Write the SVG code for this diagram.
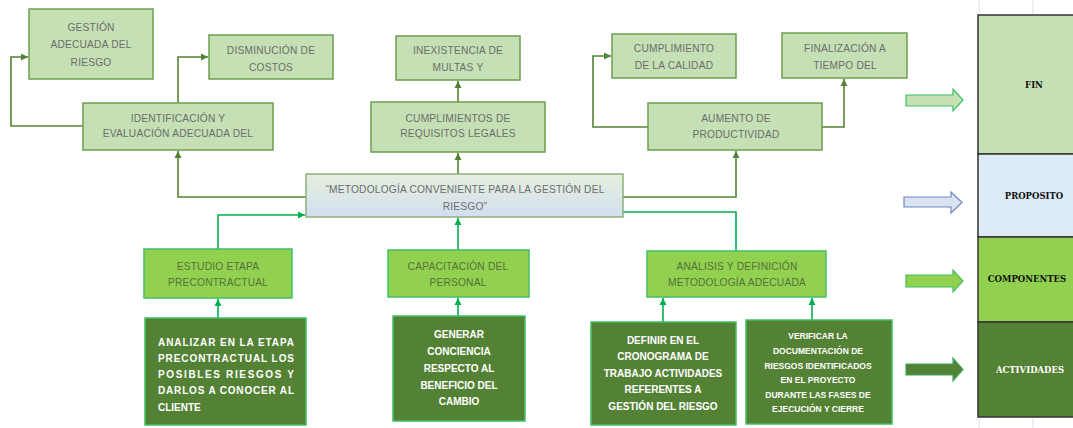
<svg xmlns="http://www.w3.org/2000/svg" width="1073" height="428" viewBox="0 0 1073 428">
<style>
.t1{font-family:"Liberation Sans",Arial,sans-serif;font-size:10.2px;letter-spacing:0.2px;fill:#6d6d6d;text-anchor:middle}
.t2{font-family:"Liberation Sans",Arial,sans-serif;font-size:10.2px;letter-spacing:0.2px;fill:#55703a;text-anchor:middle}
.tw{font-family:"Liberation Sans",Arial,sans-serif;font-size:10px;font-weight:bold;fill:#ffffff;text-anchor:middle}
.tv{font-family:"Liberation Sans",Arial,sans-serif;font-size:8.5px;font-weight:bold;fill:#ffffff;text-anchor:middle}
.tj{font-family:"Liberation Sans",Arial,sans-serif;font-size:10px;font-weight:bold;fill:#ffffff}
.tt{font-family:"DejaVu Serif","Liberation Serif",serif;font-size:8.5px;font-weight:bold;text-anchor:middle}
.b1{fill:#c5e0b4;stroke:#6e9e4e;stroke-width:1.5}
.b2{fill:#92d050;stroke:#3fc064;stroke-width:1.5}
.b3{fill:#548235;stroke:#3fc064;stroke-width:1.5}
.cd{fill:none;stroke:#548235;stroke-width:1.6}
.cb{fill:none;stroke:#00b050;stroke-width:1.6}
.grid{stroke:#e2e2e2;stroke-width:1}
</style>
<defs>
<marker id="ad" viewBox="0 0 10 10" refX="10" refY="5" markerWidth="4.5" markerHeight="4.5" orient="auto" markerUnits="strokeWidth"><path d="M0,0 L10,5 L0,10 z" fill="#548235"/></marker>
<marker id="ab" viewBox="0 0 10 10" refX="10" refY="5" markerWidth="4.5" markerHeight="4.5" orient="auto" markerUnits="strokeWidth"><path d="M0,0 L10,5 L0,10 z" fill="#00b050"/></marker>
<linearGradient id="gc" x1="0" y1="0" x2="0" y2="1"><stop offset="0" stop-color="#e4efdc"/><stop offset="1" stop-color="#d3def1"/></linearGradient>
</defs>

<g id="gridlines">
<line class="grid" x1="979" y1="0" x2="979" y2="15"/>
<line class="grid" x1="1033" y1="0" x2="1033" y2="15"/>
<line class="grid" x1="979" y1="417" x2="979" y2="428"/>
<line class="grid" x1="1033" y1="417" x2="1033" y2="428"/>
</g>

<g id="connectors">
<polyline class="cd" points="83,126 11,126 11,57 28,57" marker-end="url(#ad)"/>
<polyline class="cd" points="178,103 178,57 208,57" marker-end="url(#ad)"/>
<polyline class="cd" points="306,197 178,197 178,151" marker-end="url(#ad)"/>
<polyline class="cd" points="458,174 458,153" marker-end="url(#ad)"/>
<polyline class="cd" points="458,102 458,81" marker-end="url(#ad)"/>
<polyline class="cd" points="612,197 736,197 736,151" marker-end="url(#ad)"/>
<polyline class="cd" points="648,127 593,127 593,56 611,56" marker-end="url(#ad)"/>
<polyline class="cd" points="822,127 844,127 844,79" marker-end="url(#ad)"/>
<polyline class="cb" points="218,249 218,215 305,215" marker-end="url(#ab)"/>
<polyline class="cb" points="218,318 218,299" marker-end="url(#ab)"/>
<polyline class="cb" points="458,250 458,218" marker-end="url(#ab)"/>
<polyline class="cb" points="458,316 458,298" marker-end="url(#ab)"/>
<polyline class="cb" points="736,251 736,212 612,212" marker-end="url(#ab)"/>
<polyline class="cb" points="663,322 663,298" marker-end="url(#ab)"/>
<polyline class="cb" points="812,320 812,298" marker-end="url(#ab)"/>
</g>

<g id="gestion"><rect class="b1" x="29" y="9" width="124" height="70"/>
<text class="t1" x="91" y="31">GESTIÓN</text><text class="t1" x="91" y="48">ADECUADA DEL</text><text class="t1" x="91" y="66">RIESGO</text></g>
<g id="disminucion"><rect class="b1" x="209" y="35" width="124" height="44"/>
<text class="t1" x="271" y="54">DISMINUCIÓN DE</text><text class="t1" x="271" y="71">COSTOS</text></g>
<g id="identificacion"><rect class="b1" x="83" y="103" width="190" height="47"/>
<text class="t1" x="178" y="122">IDENTIFICACIÓN Y</text><text class="t1" x="178" y="137">EVALUACIÓN ADECUADA DEL</text></g>
<g id="inexistencia"><rect class="b1" x="396" y="36" width="124" height="44"/>
<text class="t1" x="458" y="54">INEXISTENCIA DE</text><text class="t1" x="458" y="71">MULTAS Y</text></g>
<g id="cumplimientos"><rect class="b1" x="371" y="102" width="174" height="50"/>
<text class="t1" x="458" y="122">CUMPLIMIENTOS DE</text><text class="t1" x="458" y="137">REQUISITOS LEGALES</text></g>
<g id="calidad"><rect class="b1" x="612" y="34" width="124" height="44"/>
<text class="t1" x="674" y="52">CUMPLIMIENTO</text><text class="t1" x="674" y="69">DE LA CALIDAD</text></g>
<g id="finalizacion"><rect class="b1" x="782" y="33" width="125" height="45"/>
<text class="t1" x="845" y="52">FINALIZACIÓN A</text><text class="t1" x="845" y="69">TIEMPO DEL</text></g>
<g id="aumento"><rect class="b1" x="648" y="103" width="174" height="47"/>
<text class="t1" x="736" y="122">AUMENTO DE</text><text class="t1" x="736" y="138">PRODUCTIVIDAD</text></g>

<g id="metodologia"><rect x="306" y="174" width="317" height="43" fill="url(#gc)" stroke="#8cb07a" stroke-width="1.5"/>
<text class="t1" x="465" y="193">“METODOLOGÍA CONVENIENTE PARA LA GESTIÓN DEL</text><text class="t1" x="465" y="210">RIESGO”</text></g>

<g id="estudio"><rect class="b2" x="144" y="249" width="148" height="49"/>
<text class="t2" x="218" y="270">ESTUDIO ETAPA</text><text class="t2" x="218" y="286">PRECONTRACTUAL</text></g>
<g id="capacitacion"><rect class="b2" x="388" y="250" width="141" height="47"/>
<text class="t2" x="458" y="270">CAPACITACIÓN DEL</text><text class="t2" x="458" y="286">PERSONAL</text></g>
<g id="analisis"><rect class="b2" x="647" y="251" width="179" height="46"/>
<text class="t2" x="737" y="270">ANÁLISIS Y DEFINICIÓN</text><text class="t2" x="737" y="286">METODOLOGÍA ADECUADA</text></g>

<g id="analizar"><rect class="b3" x="145" y="318" width="161" height="107"/>
<text class="tj" x="158" y="346" textLength="136" lengthAdjust="spacing">ANALIZAR EN LA ETAPA</text>
<text class="tj" x="158" y="362" textLength="136" lengthAdjust="spacing">PRECONTRACTUAL LOS</text>
<text class="tj" x="158" y="378" textLength="136" lengthAdjust="spacing">POSIBLES RIESGOS Y</text>
<text class="tj" x="158" y="394" textLength="136" lengthAdjust="spacing">DARLOS A CONOCER AL</text>
<text class="tj" x="158" y="411">CLIENTE</text></g>
<g id="generar"><rect class="b3" x="393" y="316" width="132" height="105"/>
<text class="tw" x="459" y="338">GENERAR</text><text class="tw" x="459" y="355">CONCIENCIA</text><text class="tw" x="459" y="372">RESPECTO AL</text><text class="tw" x="459" y="389">BENEFICIO DEL</text><text class="tw" x="459" y="405">CAMBIO</text></g>
<g id="definir"><rect class="b3" x="591" y="322" width="145" height="103"/>
<text class="tw" x="663" y="344">DEFINIR EN EL</text><text class="tw" x="663" y="360">CRONOGRAMA DE</text><text class="tw" x="663" y="377">TRABAJO ACTIVIDADES</text><text class="tw" x="663" y="393">REFERENTES A</text><text class="tw" x="663" y="410">GESTIÓN DEL RIESGO</text></g>
<g id="verificar"><rect class="b3" x="746" y="320" width="146" height="104"/>
<text class="tv" x="818" y="339">VERIFICAR LA</text><text class="tv" x="818" y="354">DOCUMENTACIÓN DE</text><text class="tv" x="818" y="369">RIESGOS IDENTIFICADOS</text><text class="tv" x="818" y="383">EN EL PROYECTO</text><text class="tv" x="818" y="398">DURANTE LAS FASES DE</text><text class="tv" x="818" y="412">EJECUCIÓN Y CIERRE</text></g>

<g id="block-arrows">
<path d="M906,95 L953,95 L953,89 L963,100 L953,111 L953,106 L906,106 Z" fill="#c5e0b4" stroke="#3fc064" stroke-width="1.2"/>
<path d="M904,197 L951,197 L951,192 L962,202.5 L951,213 L951,207 L904,207 Z" fill="#dae3f3" stroke="#6f8bc0" stroke-width="1.2"/>
<path d="M906,275 L953,275 L953,270 L963,281 L953,292 L953,287 L906,287 Z" fill="#92d050" stroke="#3fc064" stroke-width="1.2"/>
<path d="M906,364 L953,364 L953,358 L963,369.5 L953,381 L953,375 L906,375 Z" fill="#548235" stroke="#3fa85a" stroke-width="1.2"/>
</g>

<g id="table">
<rect x="978" y="15" width="100" height="139" fill="#c5e0b4" stroke="#333333" stroke-width="1.5"/>
<rect x="978" y="154" width="100" height="83" fill="#ddebf7" stroke="#333333" stroke-width="1.5"/>
<rect x="978" y="237" width="100" height="85" fill="#92d050" stroke="#333333" stroke-width="1.5"/>
<rect x="978" y="322" width="100" height="95" fill="#548235" stroke="#333333" stroke-width="1.5"/>
<text class="tt" x="1034" y="88" fill="#111111">FIN</text>
<text class="tt" x="1034" y="199" fill="#111111">PROPOSITO</text>
<text class="tt" x="1027" y="282" fill="#111111">COMPONENTES</text>
<text class="tt" x="1030" y="373" fill="#ffffff">ACTIVIDADES</text>
</g>
</svg>
